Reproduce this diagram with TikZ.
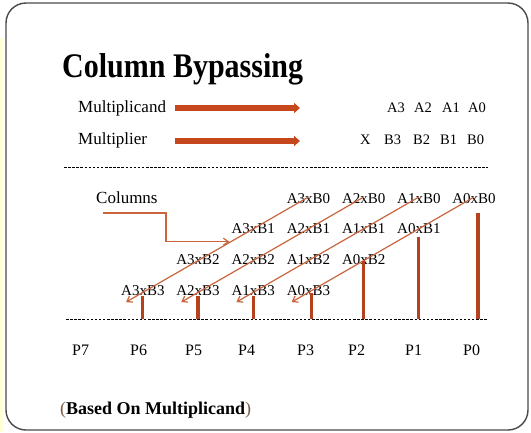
\documentclass[tikz,border=0pt]{standalone}
\usepackage{fontspec}
\usepackage{graphicx}
\setmainfont{Liberation Serif}
\usetikzlibrary{arrows.meta}
\definecolor{thickc}{HTML}{C5471B}
\definecolor{barc}{HTML}{B5421C}
\definecolor{thinc}{HTML}{C9643C}
\definecolor{framec}{HTML}{4A4A4A}
\definecolor{parenc}{HTML}{7A5A44}
\definecolor{stripc}{HTML}{FFFFD8}
\begin{document}
\begin{tikzpicture}[x=1pt,y=-1pt,
  lbl/.style={inner sep=0pt, anchor=base west, font=\fontsize{15}{18}\selectfont},
  toplbl/.style={inner sep=0pt, anchor=base west, font=\fontsize{14.5}{17}\selectfont},
  mlbl/.style={inner sep=0pt, anchor=base west, font=\fontsize{17}{20}\selectfont},
  plbl/.style={inner sep=0pt, anchor=base west, font=\fontsize{16}{19}\selectfont},
  bigarrow/.style={draw=thickc, line width=5.5pt, -{Triangle[length=6pt,width=10pt]}},
  thinline/.style={draw=thinc, line width=1.2pt},
  thinarrow/.style={thinline, -{Straight Barb[length=5pt,width=7pt]}},
  barline/.style={draw=barc, line width=3.2pt},
  dashline/.style={draw=black, line width=0.8pt, dash pattern=on 2.5pt off 1.6pt}]
\useasboundingbox (0,0) rectangle (531,432);
\fill[stripc] (0,38) rectangle (3,432);
\draw[framec, line width=1.4pt, rounded corners=20pt] (6,3) rectangle (528,430);

% title
\node[inner sep=0pt, anchor=base west, font=\bfseries\fontsize{30}{34}\selectfont] (title) at (62,77)
  {\scalebox{1}[1.15]{Column Bypassing}};

% multiplicand / multiplier
\node[mlbl] (mcand) at (78,112) {Multiplicand};
\node[mlbl] (mplier) at (78,144) {Multiplier};
\coordinate (m1s) at (175,108);
\coordinate (m1e) at (300,108);
\coordinate (m2s) at (175,141);
\coordinate (m2e) at (300,141);
\draw[bigarrow] (m1s) -- (m1e);
\draw[bigarrow] (m2s) -- (m2e);

\node[toplbl] (ta3) at (387,112) {A3};
\node[toplbl] (ta2) at (414,112) {A2};
\node[toplbl] (ta1) at (442,112) {A1};
\node[toplbl] (ta0) at (468,112) {A0};
\node[toplbl] (tx) at (360,144) {X};
\node[toplbl] (tb3) at (384,144) {B3};
\node[toplbl] (tb2) at (413,144) {B2};
\node[toplbl] (tb1) at (440,144) {B1};
\node[toplbl] (tb0) at (467,144) {B0};

% dashed lines
\coordinate (d1s) at (64,167);
\coordinate (d1e) at (488,167);
\coordinate (d2s) at (66,319);
\coordinate (d2e) at (488,319);
\draw[dashline] (d1s) -- (d1e);
\draw[dashline] (d2s) -- (d2e);

% partial products
\foreach \r in {0,...,3}{
  \foreach \j in {0,...,3}{
    \pgfmathtruncatemacro\a{3-\j}
    \pgfmathtruncatemacro\k{3-\r+\j}
    \node[lbl] (a\a b\r) at ({121+55.2*\k},{203+30.7*\r}) {A\a xB\r};
  }
}

% columns label and connector
\node[mlbl] (cols) at (96,203) {Columns};
\draw[thinarrow] ([shift={(7,10)}]cols.base west) -- ++(63,0) |- ([shift={(-2,8)}]a3b1.base west);

% diagonals
\foreach \a in {3,2,1,0}{
  \draw[thinarrow] ([yshift=6pt]a\a b0.base) -- ([shift={(5,7)}]a\a b3.base west);
}

% bars
\draw[barline] ([yshift=-1pt]a3b3.base) -- (a3b3.base |- d2s);
\draw[barline] ([yshift=-1pt]a2b3.base) -- (a2b3.base |- d2s);
\draw[barline] ([yshift=-1pt]a1b3.base) -- (a1b3.base |- d2s);
\draw[barline] ([shift={(3,-2)}]a0b3.base) -- ([xshift=3pt]a0b3.base |- d2s);
\draw[barline] ([yshift=3pt]a0b2.base) -- (a0b2.base |- d2s);
\draw[barline] ([yshift=-3pt]a0b1.base) -- (a0b1.base |- d2s);
\draw[barline] ([shift={(4,10)}]a0b0.base) -- ([xshift=4pt]a0b0.base |- d2s);

% P labels
\node[plbl] (p7) at (72,355) {P7};
\node[plbl] (p6) at (130,355) {P6};
\node[plbl] (p5) at (185,355) {P5};
\node[plbl] (p4) at (238,355) {P4};
\node[plbl] (p3) at (297,355) {P3};
\node[plbl] (p2) at (348,355) {P2};
\node[plbl] (p1) at (405,355) {P1};
\node[plbl] (p0) at (463,355) {P0};

% footnote
\node[inner sep=0pt, anchor=base west, font=\fontsize{18}{21}\selectfont] (based) at (60,414)
  {\textcolor{parenc}{(}\textbf{Based On Multiplicand}\textcolor{parenc}{)}};
\end{tikzpicture}
\end{document}
